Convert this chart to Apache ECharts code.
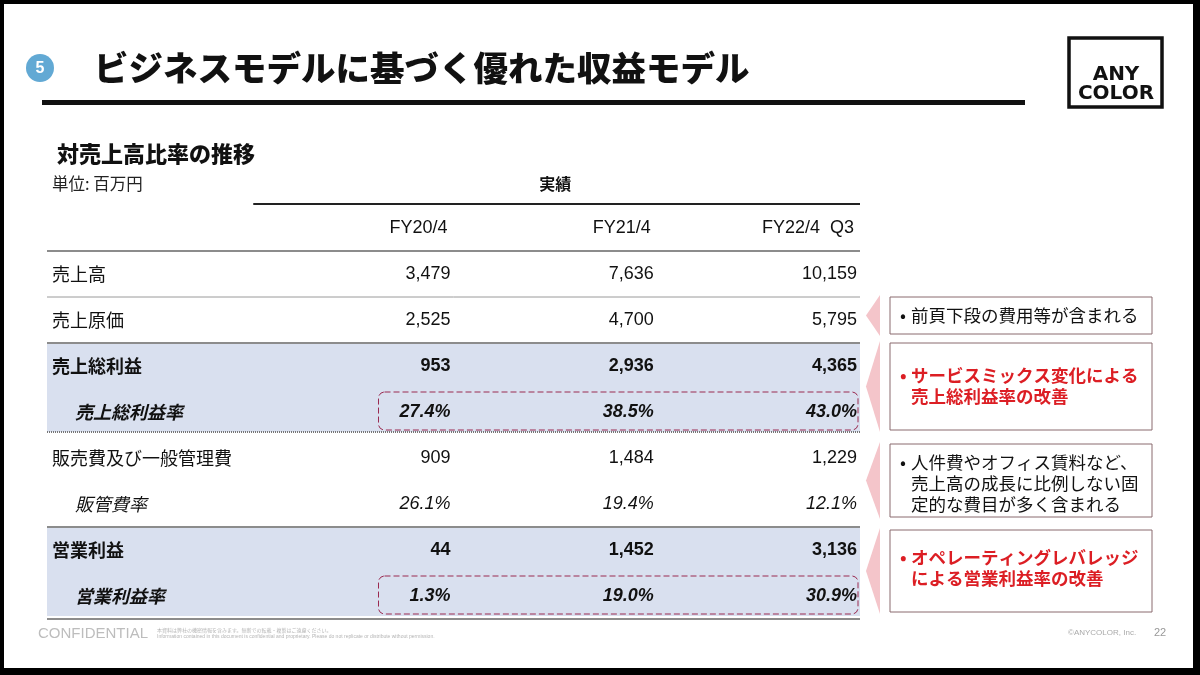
<!DOCTYPE html>
<html>
<head>
<meta charset="utf-8">
<script src="https://cdn.jsdelivr.net/npm/echarts@6/dist/echarts.min.js"></script>
<style>
html, body { margin: 0; padding: 0; background: #fff; }
#main { width: 1200px; height: 675px; }
</style>
</head>
<body>
<div id="main"></div>
<script>
// 表の中身
var periods = ['FY20/4', 'FY21/4', 'FY22/4  Q3'];
var rowLabels = ['売上高', '売上原価', '売上総利益', '売上総利益率', '販売費及び一般管理費', '販管費率', '営業利益', '営業利益率'];
var sales = [3479, 7636, 10159];
var costOfSales = [2525, 4700, 5795];
var grossProfit = [953, 2936, 4365];
var grossMargin = [27.4, 38.5, 43.0];
var sgaExpenses = [909, 1484, 1229];
var sgaRatio = [26.1, 19.4, 12.1];
var opProfit = [44, 1452, 3136];
var opMargin = [1.3, 19.0, 30.9];

// 右側のコメント
var note1 = ['前頁下段の費用等が含まれる'];
var note2 = ['サービスミックス変化による', '売上総利益率の改善'];
var note3 = ['人件費やオフィス賃料など、', '売上高の成長に比例しない固', '定的な費目が多く含まれる'];
var note4 = ['オペレーティングレバレッジ', 'による営業利益率の改善'];

var JP = '"Noto Sans CJK JP", sans-serif';
var NUM = '"Liberation Sans", Arial, sans-serif';
var RED = '#dc1e24';

var rowValues = [sales, costOfSales, grossProfit, grossMargin, sgaExpenses, sgaRatio, opProfit, opMargin];
var pctRows = [3, 5, 7];
var boldRows = [2, 3, 6, 7];
var shadedRows = [3, 7];          // 2行分の網掛けの開始行
var framedRows = [4, 8];          // 点線枠で囲む行
var ruleRows = [0, 1, 2, 4, 6, 8];
var ruleKinds = ['thick', 'thin', 'thick', 'dot', 'thick', 'thick'];

// セル一覧を作る
var cells = [];
periods.forEach(function(p, i) {
    cells.push({ col: i + 1, row: 0, text: p, head: true });
});
rowLabels.forEach(function(label, r) {
    var isPct = pctRows.indexOf(r) >= 0;
    var bold = boldRows.indexOf(r) >= 0;
    cells.push({ col: 0, row: r + 1, text: label, bold: bold, italic: isPct, indent: isPct, jp: true });
    rowValues[r].forEach(function(v, c) {
        var txt = isPct ? v.toFixed(1) + '%' : v.toLocaleString('en-US');
        cells.push({ col: c + 1, row: r + 1, text: txt, bold: bold, italic: isPct });
    });
});

function txt(x, y, text, font, fill, align, vAlign) {
    return {
        type: 'text',
        style: {
            x: x, y: y, text: text, font: font, fill: fill || '#111',
            align: align || 'left', textAlign: align || 'left',
            verticalAlign: vAlign || 'middle', textVerticalAlign: vAlign || 'middle'
        }
    };
}

function renderCell(params, api) {
    var cell = cells[params.dataIndex];
    var c = api.coord([api.value(0), api.value(1)]);
    var s = api.size([1, 1]);
    var font = (cell.italic ? 'italic ' : '') + (cell.bold ? 'bold ' : '') +
        (cell.jp ? '18px ' + JP : '18px ' + NUM);
    if (cell.col === 0) {
        return txt(c[0] - s[0] / 2 + (cell.indent ? 28 : 5), c[1], cell.text, font, '#111', 'left');
    }
    return txt(c[0] + s[0] / 2 - (cell.head ? 6 : 3), c[1], cell.text, font, '#111', 'right');
}

function renderBand(params, api) {
    var c = api.coord([0, api.value(1)]);
    var s = api.size([1, 1]);
    return {
        type: 'rect',
        shape: { x: c[0] - s[0] / 2, y: c[1] - s[1] / 2, width: s[0] * 4, height: s[1] * 2 - 3 },
        style: { fill: '#d9e0ef' }
    };
}

function renderRule(params, api) {
    var c = api.coord([0, api.value(1)]);
    var s = api.size([1, 1]);
    var kind = ruleKinds[params.dataIndex];
    var y = c[1] + s[1] / 2;
    var style = { stroke: '#8c8c8c', lineWidth: 2 };
    if (kind === 'thin') style = { stroke: '#9a9a9a', lineWidth: 1 };
    if (kind === 'dot') { style = { stroke: '#777', lineWidth: 2, lineDash: [1, 1] }; y -= 3; }
    return {
        type: 'line',
        shape: { x1: c[0] - s[0] / 2, y1: y, x2: c[0] - s[0] / 2 + s[0] * 4, y2: y },
        style: style
    };
}

function renderFrame(params, api) {
    var c1 = api.coord([1, api.value(1)]);
    var c3 = api.coord([3, api.value(1)]);
    var s = api.size([1, 1]);
    var x0 = c1[0] + s[0] / 2 - 75;
    var x1 = c3[0] + s[0] / 2 - 2;
    return {
        type: 'rect',
        shape: { x: x0, y: c1[1] - s[1] / 2 + 3, width: x1 - x0, height: s[1] - 8, r: 6 },
        style: { fill: null, stroke: '#9a2a50', lineWidth: 1, lineDash: [6, 3] }
    };
}

function renderHeading(params, api) {
    var c1 = api.coord([1, 0]);
    var c2 = api.coord([2, 0]);
    var s = api.size([1, 1]);
    var top = c1[1] - s[1] / 2 - 1;
    return {
        type: 'group',
        children: [
            {
                type: 'line',
                shape: { x1: c1[0] - s[0] / 2 + 3, y1: top, x2: c1[0] + s[0] * 2.5, y2: top },
                style: { stroke: '#222', lineWidth: 2 }
            },
            txt(c2[0], top - 20, '実績', 'bold 16px ' + JP, '#111', 'center')
        ]
    };
}

// 右側の注記ボックス
function noteBox(x, y, w, h, lines, red, lineTop) {
    var font = red ? 'bold 17.5px ' + JP : '17.5px ' + JP;
    var color = red ? RED : '#111';
    var kids = [
        { type: 'polygon', shape: { points: [[880, y - 2], [866, y + h / 2], [880, y + h + 2]] }, style: { fill: '#f4c5ca' } },
        { type: 'rect', shape: { x: x, y: y, width: w, height: h }, style: { fill: '#fff', stroke: '#8a6a6e', lineWidth: 1 } },
        txt(x + 10, lineTop, '•', font, color, 'left')
    ];
    lines.forEach(function(l, i) {
        kids.push(txt(x + 21, lineTop + i * 21, l, font, color, 'left'));
    });
    return { type: 'group', children: kids };
}

var chart = echarts.init(document.getElementById('main'));
chart.setOption({
    backgroundColor: '#fff',
    animation: false,
    grid: { left: 47, top: 205, width: 813, height: 414 },
    xAxis: { type: 'category', data: [''].concat(periods), show: false },
    yAxis: { type: 'category', data: ['head'].concat(rowLabels), inverse: true, show: false },
    series: [
        { type: 'custom', z: 1, renderItem: renderBand, data: shadedRows.map(function(r) { return [0, r]; }) },
        { type: 'custom', z: 2, renderItem: renderRule, data: ruleRows.map(function(r) { return [0, r]; }) },
        { type: 'custom', z: 3, renderItem: renderFrame, data: framedRows.map(function(r) { return [1, r]; }) },
        { type: 'custom', z: 3, renderItem: renderHeading, data: [[1, 0]] },
        { type: 'custom', z: 4, renderItem: renderCell, data: cells.map(function(c) { return [c.col, c.row]; }) }
    ],
    graphic: [
        // 外枠
        { type: 'rect', shape: { x: 0, y: 0, width: 1200, height: 4 }, style: { fill: '#000' } },
        { type: 'rect', shape: { x: 0, y: 0, width: 4, height: 675 }, style: { fill: '#000' } },
        { type: 'rect', shape: { x: 1193, y: 0, width: 7, height: 675 }, style: { fill: '#000' } },
        { type: 'rect', shape: { x: 0, y: 668, width: 1200, height: 7 }, style: { fill: '#000' } },
        // タイトル
        { type: 'circle', shape: { cx: 40, cy: 68, r: 14 }, style: { fill: '#62a9d4' } },
        txt(40, 69, '5', 'bold 16px ' + NUM, '#fff', 'center'),
        txt(94, 68, 'ビジネスモデルに基づく優れた収益モデル', '900 34.5px ' + JP, '#111', 'left'),
        { type: 'rect', shape: { x: 42, y: 100, width: 983, height: 5 }, style: { fill: '#111' } },
        // ロゴ
        { type: 'rect', shape: { x: 1069, y: 38, width: 93, height: 69 }, style: { fill: null, stroke: '#111', lineWidth: 3.5 } },
        txt(1116, 75, 'ANY', 'bold 20px "DejaVu Sans"', '#111', 'center'),
        txt(1116, 94, 'COLOR', 'bold 20px "DejaVu Sans"', '#111', 'center'),
        // 小見出し
        txt(57, 154, '対売上高比率の推移', '900 22px ' + JP, '#111', 'left'),
        txt(52, 184, '単位: 百万円', '16.5px ' + JP, '#222', 'left'),
        // 注記
        noteBox(890, 297, 262, 37, note1, false, 315),
        noteBox(890, 343, 262, 87, note2, true, 375),
        noteBox(890, 444, 262, 73, note3, false, 462),
        noteBox(890, 530, 262, 82, note4, true, 557),
        // フッター
        txt(38, 634, 'CONFIDENTIAL', '15px ' + NUM, '#bdbdbd', 'left'),
        txt(157, 630, '本資料は弊社の機密情報を含みます。無断での転載・複製はご遠慮ください。', '5px ' + JP, '#b5b5b5', 'left'),
        txt(157, 637, 'Information contained in this document is confidential and proprietary. Please do not replicate or distribute without permission.', '5px ' + NUM, '#b5b5b5', 'left'),
        txt(1068, 633, '©ANYCOLOR, Inc.', '8px ' + NUM, '#aaa', 'left'),
        txt(1154, 633, '22', '11px ' + NUM, '#999', 'left')
    ]
});
</script>
</body>
</html>
